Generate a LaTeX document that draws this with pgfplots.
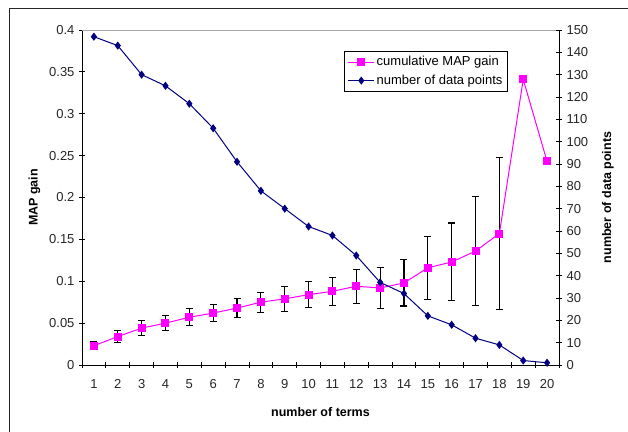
\documentclass[border=0pt]{standalone}
\usepackage{fontspec}
\setmainfont{Liberation Sans}
\usepackage{pgfplots}
\usepackage{pgfplotstable}
\pgfplotsset{compat=1.18}
\definecolor{pinkline}{RGB}{255,0,255}
\definecolor{navyline}{RGB}{0,0,128}
\pgfplotstableread{
x y e
1 0.023 0.005
2 0.034 0.0075
3 0.044 0.009
4 0.050 0.009
5 0.057 0.010
6 0.062 0.010
7 0.068 0.0115
8 0.075 0.012
9 0.079 0.0147
10 0.084 0.0155
11 0.088 0.017
12 0.094 0.0205
13 0.092 0.024
14 0.098 0.0275
15 0.116 0.0375
16 0.123 0.0465
17 0.136 0.065
18 0.157 0.091
}\errtab
\pgfplotstableread{
x y
1 0.023
2 0.034
3 0.044
4 0.050
5 0.057
6 0.062
7 0.068
8 0.075
9 0.079
10 0.084
11 0.088
12 0.094
13 0.092
14 0.098
15 0.116
16 0.123
17 0.136
18 0.157
19 0.341
20 0.243
}\maptab
\pgfplotstableread{
x n
1 147
2 143
3 130
4 125
5 117
6 106
7 91
8 78
9 70
10 62
11 58
12 49
13 37
14 32
15 22
16 18
17 12
18 9
19 2
20 1
}\ntab
\begin{document}
\fontsize{13}{15}\selectfont
\begin{tikzpicture}[x=1pt,y=1pt]
\useasboundingbox (0,0) rectangle (628,431);
\draw[line width=0.9pt, black!85] (9,-5) -- (9,423) -- (640,423);
\begin{axis}[
  at={(82pt,66pt)}, anchor=south west, scale only axis,
  width=477pt, height=335pt,
  xmin=0.5, xmax=20.5, ymin=0, ymax=0.4,
  axis x line*=bottom, axis y line*=left,
  axis line style={black, line width=0.9pt},
  xtick={1,...,20}, major x tick style={draw=none},
  minor xtick={0.5,1.5,...,20.5},
  minor tick length=6pt, major tick length=6pt,
  tick align=center,
  tick style={black, line width=0.9pt},
  ytick={0,0.05,0.1,0.15,0.2,0.25,0.3,0.35,0.4},
  yticklabels={0,0.05,0.1,0.15,0.2,0.25,0.3,0.35,0.4},
  /pgf/number format/assume math mode=true,
  tick label style={font=\fontsize{13}{15}\selectfont, text=black!85},
  xticklabel style={yshift=-7pt},
  xlabel={number of terms},
  ylabel={MAP gain},
  label style={font=\bfseries\fontsize{12.5}{15}\selectfont},
  xlabel style={yshift=-10pt},
  ylabel style={yshift=0pt},
  legend style={at={(0.55,0.937)}, anchor=north west, draw=black, line width=0.9pt,
     font=\fontsize{13}{15}\selectfont, cells={anchor=west}, row sep=3pt,
     inner xsep=3pt, inner ysep=3pt},
  legend image code/.code={\draw[#1] (0pt,0pt) -- (13pt,0pt) -- (26pt,0pt); \draw[#1, mark repeat=2, mark phase=2] plot coordinates {(0pt,0pt) (13pt,0pt) (26pt,0pt)};},
  legend image post style={line width=0.9pt},
]
\draw[gray!70, line width=0.9pt] (rel axis cs:0,1) -- (rel axis cs:1,1);
\addplot[draw=none, mark=none, forget plot,
  error bars/.cd, y dir=both, y explicit,
  error bar style={black, line width=1.1pt},
  error mark options={black, rotate=90, mark size=3.5pt, line width=1.1pt}]
  table[x=x, y=y, y error=e] {\errtab};
\addplot[pinkline, line width=1pt, mark=square*, mark size=3.5pt,
  mark options={fill=pinkline, draw=pinkline}] table[x=x, y=y] {\maptab};
\addlegendentry{cumulative MAP gain}
\addlegendimage{navyline, line width=1pt, mark=diamond*, mark size=3.3pt, mark options={fill=navyline}}
\addlegendentry{number of data points}
\end{axis}
\begin{axis}[
  at={(82pt,66pt)}, anchor=south west, scale only axis,
  width=477pt, height=335pt,
  xmin=0.5, xmax=20.5, ymin=0, ymax=150,
  axis x line=none, axis y line*=right,
  axis line style={black, line width=0.9pt},
  ytick={0,10,...,150},
  tick align=center, major tick length=6pt,
  tick style={black, line width=0.9pt},
  /pgf/number format/assume math mode=true,
  tick label style={font=\fontsize{13}{15}\selectfont, text=black!85},
  ylabel={number of data points},
  label style={font=\bfseries\fontsize{12.5}{15}\selectfont},
  ylabel style={yshift=-5pt},
]
\addplot[navyline, line width=1pt, mark=diamond*, mark size=3.3pt,
  mark options={fill=navyline, draw=navyline}] table[x=x, y=n] {\ntab};
\end{axis}
\end{tikzpicture}
\end{document}
